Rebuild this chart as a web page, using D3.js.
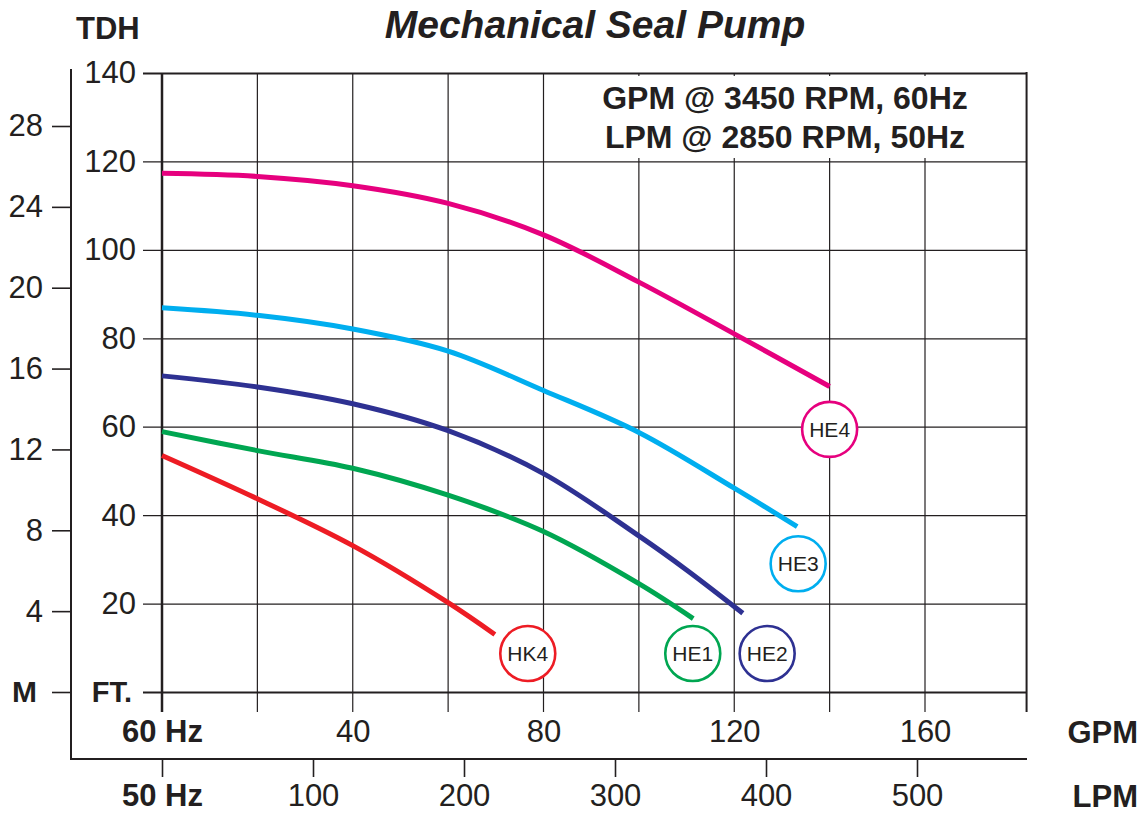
<!DOCTYPE html>
<html lang="en">
<head>
<meta charset="UTF-8" />
<title>Mechanical Seal Pump</title>
<script src="https://d3js.org/d3.v7.min.js"></script>
<style>
  body { margin: 0; background: #fff; }
  svg { display: block; font-family: "Liberation Sans", Arial, sans-serif; }
  .tick text { fill: #231f20; }
  .domain { display: none; }
</style>
</head>
<body>
<svg id="chart" width="1146" height="814"></svg>
<script>
  // Axis ticks
  const gpmGrid = [0, 20, 40, 60, 80, 100, 120, 140, 160];
  const gpmTicks = [0, 40, 80, 120, 160];
  const lpmTicks = [0, 100, 200, 300, 400, 500];
  const ftTicks = [0, 20, 40, 60, 80, 100, 120, 140];
  const mTicks = [0, 4, 8, 12, 16, 20, 24, 28];

  // Pump curves: [GPM, feet]
  const he4 = [[0, 117.3], [20, 116.6], [40, 114.5], [60, 110.5], [80, 103.4], [100, 92.7], [120, 81], [140, 69.1]];
  const he3 = [[0, 86.9], [20, 85.2], [40, 82.1], [60, 77.1], [80, 68.2], [100, 58.7], [120, 46.1], [133.2, 37.4]];
  const he2 = [[0, 71.5], [20, 69], [40, 65.2], [60, 59.1], [80, 49.4], [100, 35.3], [110, 27.6], [121.8, 17.8]];
  const he1 = [[0, 58.9], [20, 54.6], [40, 50.6], [60, 44.5], [80, 36.3], [100, 24.5], [111.4, 16.6]];
  const hk4 = [[0, 53.5], [20, 43.7], [40, 33.1], [60, 20.2], [69.8, 13.0]];

  const models = ["HE4", "HE3", "HE2", "HE1", "HK4"];
  const colors = ["#e6007e", "#00aeef", "#2e3192", "#00a651", "#ed1c24"];
  // label bubble positions [GPM, feet]
  const labelPos = [[140, 59.4], [133.4, 29], [126.9, 8.7], [111.3, 8.7], [76.7, 8.7]];

  const ink = "#231f20";
  const svg = d3.select("#chart");

  const xMax = 181.3;
  const x = d3.scaleLinear().domain([0, 160]).range([162, 925]);
  const xl = d3.scaleLinear().domain([0, 500]).range([162, 917]);
  const y = d3.scaleLinear().domain([0, 140]).range([692, 73]);
  const ym = d3.scaleLinear().domain([0, 28]).range([692, 126]);

  // title
  svg.append("text").attr("x", 595).attr("y", 38).attr("text-anchor", "middle")
    .attr("font-size", 39).attr("font-weight", "bold").attr("font-style", "italic")
    .attr("fill", ink).text("Mechanical Seal Pump");
  svg.append("text").attr("x", 76).attr("y", 39)
    .attr("font-size", 31).attr("font-weight", "bold").attr("fill", ink).text("TDH");

  // horizontal grid + ft labels
  svg.append("g")
    .attr("transform", `translate(${x(xMax)},0)`)
    .call(d3.axisLeft(y).tickValues(ftTicks).tickSize(x(xMax) - 143).tickPadding(7)
      .tickFormat(d => d === 0 ? "FT." : d))
    .call(g => g.selectAll(".tick line").attr("stroke", ink)
      .attr("stroke-width", d => (d === 0 || d === 140) ? 2 : 1.2))
    .call(g => g.selectAll(".tick text")
      .attr("font-weight", d => d === 0 ? "bold" : null)
      .attr("dx", d => d === 0 ? -4 : 0)
      .attr("font-size", d => d === 0 ? 29 : 31));

  // vertical grid
  svg.append("g").selectAll("line").data(gpmGrid).join("line")
    .attr("x1", d => x(d)).attr("x2", d => x(d))
    .attr("y1", y(140)).attr("y2", 712)
    .attr("stroke", ink).attr("stroke-width", d => d === 0 ? 2.5 : 1.2);
  svg.append("line").attr("x1", x(xMax)).attr("x2", x(xMax))
    .attr("y1", y(140) - 1).attr("y2", 712).attr("stroke", ink).attr("stroke-width", 2);

  // GPM labels
  svg.append("g")
    .attr("transform", "translate(0,712)")
    .call(d3.axisBottom(x).tickValues(gpmTicks).tickSize(0).tickPadding(8)
      .tickFormat(d => d === 0 ? "60 Hz" : d))
    .call(g => g.selectAll(".tick text").attr("font-size", 31)
      .attr("font-weight", d => d === 0 ? "bold" : null));
  svg.append("text").attr("x", 1138).attr("y", 743).attr("text-anchor", "end")
    .attr("font-size", 31).attr("font-weight", "bold").attr("fill", ink).text("GPM");

  // left meter axis
  svg.append("line").attr("x1", 71).attr("x2", 71).attr("y1", 69).attr("y2", 759)
    .attr("stroke", ink).attr("stroke-width", 2);
  svg.append("g")
    .attr("transform", "translate(71,0)")
    .call(d3.axisLeft(ym).tickValues(mTicks).tickSize(19).tickPadding(9)
      .tickFormat(d => d === 0 ? "M" : d))
    .call(g => g.selectAll(".tick line").attr("stroke", ink).attr("stroke-width", 1.6))
    .call(g => g.selectAll(".tick text")
      .attr("font-weight", d => d === 0 ? "bold" : null)
      .attr("dx", d => d === 0 ? -6 : 0)
      .attr("font-size", d => d === 0 ? 30 : 31));

  // LPM axis
  svg.append("line").attr("x1", 70).attr("x2", 1027).attr("y1", 759).attr("y2", 759)
    .attr("stroke", ink).attr("stroke-width", 2);
  svg.append("g")
    .attr("transform", "translate(0,759)")
    .call(d3.axisBottom(xl).tickValues(lpmTicks).tickSize(18).tickPadding(7)
      .tickFormat(d => d === 0 ? "50 Hz" : d))
    .call(g => g.selectAll(".tick line").attr("stroke", ink).attr("stroke-width", 1.6))
    .call(g => g.selectAll(".tick text").attr("font-size", 31)
      .attr("font-weight", d => d === 0 ? "bold" : null));
  svg.append("text").attr("x", 1138).attr("y", 807).attr("text-anchor", "end")
    .attr("font-size", 31).attr("font-weight", "bold").attr("fill", ink).text("LPM");

  // legend box text
  svg.append("rect").attr("x", 585).attr("y", 76).attr("width", 435).attr("height", 82).attr("fill", "#fff");
  svg.append("text").attr("x", 785).attr("y", 109).attr("text-anchor", "middle")
    .attr("font-size", 32).attr("font-weight", "bold").attr("fill", ink).text("GPM @ 3450 RPM, 60Hz");
  svg.append("text").attr("x", 785).attr("y", 148).attr("text-anchor", "middle")
    .attr("font-size", 32).attr("font-weight", "bold").attr("fill", ink).text("LPM @ 2850 RPM, 50Hz");

  // curves
  const line = d3.line().x(d => x(d[0])).y(d => y(d[1])).curve(d3.curveCatmullRom);
  const series = [he4, he3, he2, he1, hk4];
  svg.append("g").selectAll("path").data(series).join("path")
    .attr("d", line).attr("fill", "none")
    .attr("stroke", (d, i) => colors[i]).attr("stroke-width", 5);

  // model bubbles
  const lab = svg.append("g").selectAll("g").data(models).join("g")
    .attr("transform", (d, i) => `translate(${x(labelPos[i][0])},${y(labelPos[i][1])})`);
  lab.append("circle").attr("r", 27.5).attr("fill", "#fff")
    .attr("stroke", (d, i) => colors[i]).attr("stroke-width", 2.6);
  lab.append("text").attr("text-anchor", "middle").attr("dy", "0.36em")
    .attr("font-size", 21).attr("fill", ink).text(d => d);
</script>
</body>
</html>
